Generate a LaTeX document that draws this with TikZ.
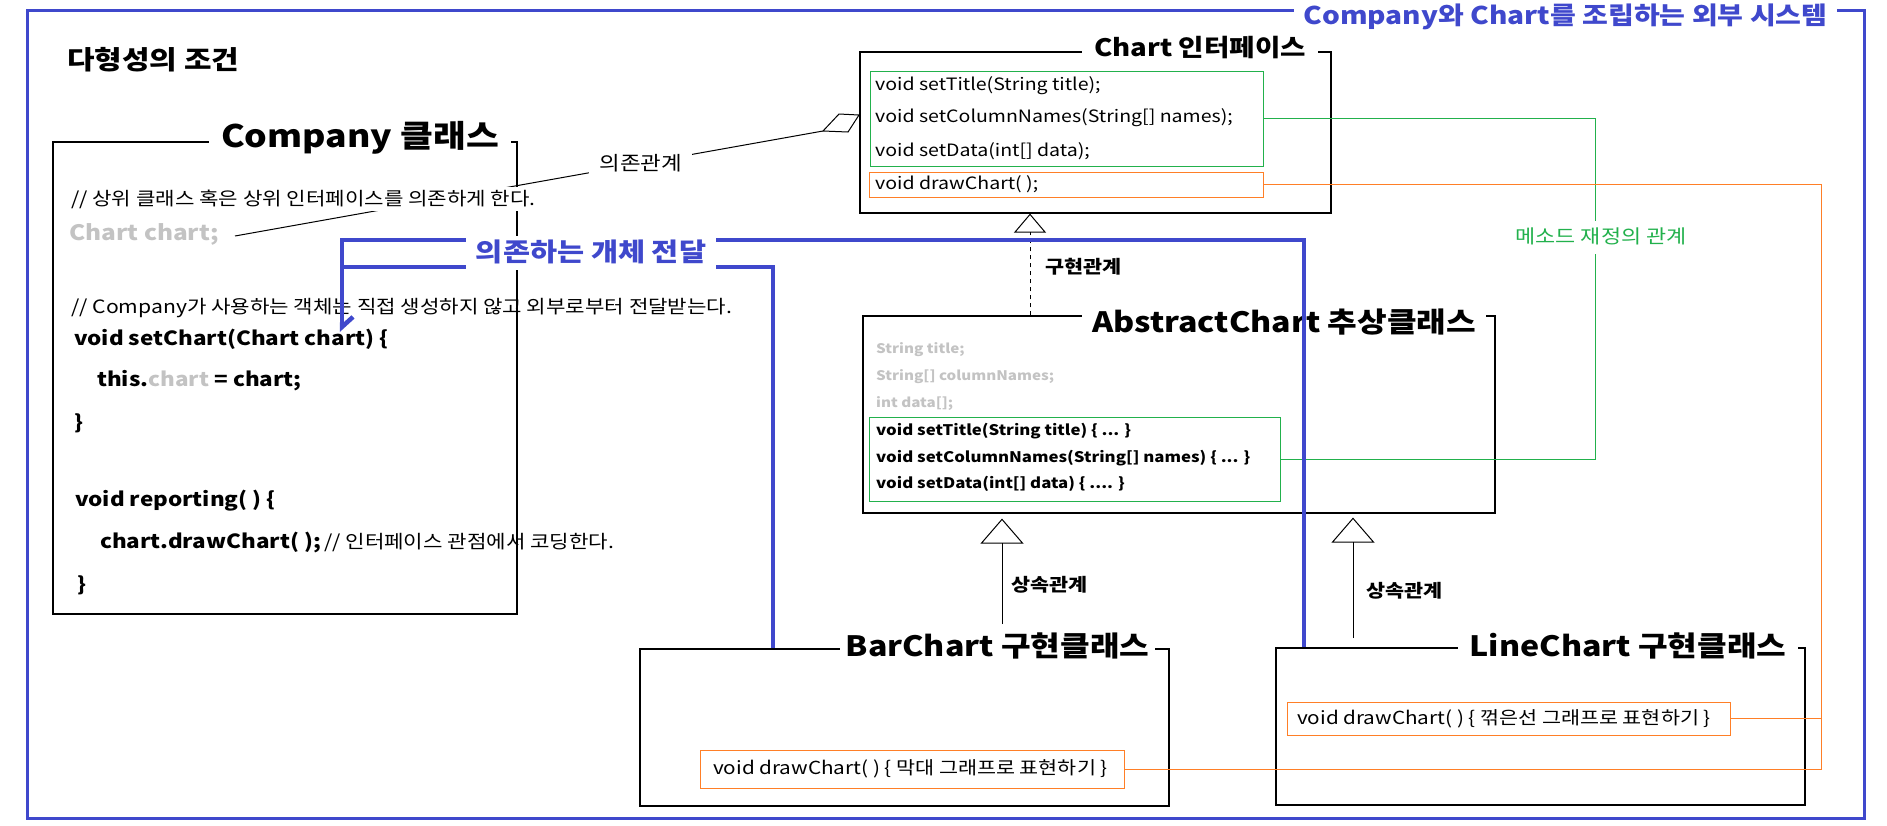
\documentclass[tikz,border=0pt]{standalone}
\usepackage{fontspec}
\setmainfont[FakeStretch=1.15]{Noto Sans CJK KR}
\usetikzlibrary{arrows.meta}
\definecolor{sysblue}{RGB}{63,72,204}
\definecolor{mgreen}{RGB}{34,177,76}
\definecolor{morange}{RGB}{255,127,39}
\definecolor{lgray}{RGB}{195,195,195}
\newcommand\fsz[1]{\fontsize{#1}{#1}\selectfont}
\begin{document}
\begin{tikzpicture}[x=1pt,y=-1pt,
  txt/.style={inner sep=0pt, anchor=west, text height=.85em, text depth=.15em},
  classbox/.style={draw=black, line width=1.2pt, inner sep=0pt},
  header/.style={fill=white, inner ysep=1pt, text height=.85em, text depth=.15em, node font=\fsz{28}\bfseries},
  greenbox/.style={draw=mgreen, line width=1pt, inner sep=0pt},
  orangebox/.style={draw=morange, line width=1pt, inner sep=0pt},
  gline/.style={draw=mgreen, line width=1pt},
  oline/.style={draw=morange, line width=1pt},
  bline/.style={draw=sysblue, line width=4.5pt},
  thin/.style={draw=black, line width=1pt},
  inherit/.style={thin, -{Triangle[open, length=25pt, width=43pt]}},
  rellabel/.style={txt, node font=\fsz{18}\bfseries},
  codeline/.style={txt, node font=\fsz{19.5}\bfseries},
  cmt/.style={txt, node font=\fsz{18.4}},
]
\fill[white] (0,0) rectangle (1887,825);
\useasboundingbox (0,0) rectangle (1887,825);

% outer frame
\node[draw=sysblue, line width=3pt, inner sep=0pt, minimum width=1837pt, minimum height=808pt] (frame) at (945.5,414) {};
\node[fill=white, inner xsep=9pt, inner ysep=2pt, text=sysblue, node font=\fsz{24.4}\bfseries, text height=.85em, text depth=.15em] (sysname) at (1565.5,16) {Company와 Chart를 조립하는 외부 시스템};

\node[txt, node font=\fsz{26}\bfseries] (cond) at (67,60) {다형성의 조건};

% Company class
\node[classbox, minimum width=464pt, minimum height=472pt] (company) at (285,378) {};
\node[header, node font=\fsz{31}\bfseries, inner xsep=12pt] (companyh) at (360,137) {Company 클래스};

% dependency
\coordinate (dstart) at (235,236);
\coordinate (d1) at (823,131);
\coordinate (d2) at (839,114);
\coordinate (d3) at (859,115);
\coordinate (d4) at (848,132);
\draw[thin] (dstart) -- (d1) node[pos=0.69, fill=white, inner xsep=10pt, inner ysep=1pt, node font=\fsz{19.5}, text height=.85em, text depth=.15em] (deplabel) {의존관계};
\draw[thin, fill=white] (d1) -- (d2) -- (d3) -- (d4) -- cycle;

\node[cmt, fill=white, inner ysep=3pt] (cmt1) at (71,199) {// 상위 클래스 혹은 상위 인터페이스를 의존하게 한다.};
\node[txt, node font=\fsz{21.2}\bfseries, text=lgray] (chartfield) at (69,233) {Chart chart;};
\node[cmt] (cmt2) at (71,307) {// Company가 사용하는 객체는 직접 생성하지 않고 외부로부터 전달받는다.};
\node[codeline] (setchart) at (74,339) {void setChart(Chart chart) \{};
\node[codeline] (thisline) at (97,380) {this.\textcolor{lgray}{chart} = chart;};
\node[codeline] (brace1) at (74,423) {\}};
\node[codeline] (reporting) at (75,500) {void reporting( ) \{};
\node[codeline] (drawcall) at (100,542) {chart.drawChart( );};
\node[cmt] (cmt3) at (324,542) {// 인터페이스 관점에서 코딩한다.};
\node[codeline] (brace2) at (77,585) {\}};

% Chart interface
\node[classbox, minimum width=471pt, minimum height=161pt] (chartbox) at (1095.5,132.5) {};
\node[header, node font=\fsz{24}\bfseries, inner xsep=12pt] (charth) at (1200,48) {Chart 인터페이스};
\node[greenbox, minimum width=393pt, minimum height=95pt] (chartgreen) at (1066.5,118.5) {};
\node[txt, node font=\fsz{17}] (ct1) at (875,85) {void setTitle(String title);};
\node[txt, node font=\fsz{17}] (ct2) at (875,117) {void setColumnNames(String[] names);};
\node[txt, node font=\fsz{17}] (ct3) at (875,151) {void setData(int[] data);};
\node[orangebox, minimum width=394pt, minimum height=25pt] (chartorange) at (1066,184.5) {};
\node[txt, node font=\fsz{17}] (ct4) at (875,184) {void drawChart( );};

% AbstractChart
\node[classbox, minimum width=632pt, minimum height=197pt] (absbox) at (1179,414.5) {};
\node[header, node font=\fsz{28}\bfseries, inner xsep=10pt] (absh) at (1284,323) {AbstractChart 추상클래스};
\node[txt, node font=\fsz{13.2}\bfseries, text=lgray] (af1) at (876,349) {String title;};
\node[txt, node font=\fsz{13.2}\bfseries, text=lgray] (af2) at (876,376) {String[] columnNames;};
\node[txt, node font=\fsz{13.2}\bfseries, text=lgray] (af3) at (876,403) {int data[];};
\node[greenbox, minimum width=411pt, minimum height=84pt] (absgreen) at (1074.5,459) {};
\node[txt, node font=\fsz{14.6}\bfseries] (am1) at (876,430) {void setTitle(String title) \{ ... \}};
\node[txt, node font=\fsz{14.6}\bfseries] (am2) at (876,457) {void setColumnNames(String[] names) \{ ... \}};
\node[txt, node font=\fsz{14.6}\bfseries] (am3) at (876,483) {void setData(int[] data) \{ .... \}};

% BarChart
\node[classbox, minimum width=529pt, minimum height=157pt] (barbox) at (904.5,727.5) {};
\node[header, inner xsep=6pt] (barh) at (997.5,647) {BarChart 구현클래스};
\node[orangebox, minimum width=424pt, minimum height=38pt] (barorange) at (912,769) {};
\node[txt, node font=\fsz{18}] (bardraw) at (713,768) {void drawChart( ) \{ 막대 그래프로 표현하기 \}};

% LineChart
\node[classbox, minimum width=529pt, minimum height=157pt] (linebox) at (1540.5,726.5) {};
\node[header, inner xsep=12pt] (lineh) at (1628,647) {LineChart 구현클래스};
\node[orangebox, minimum width=443pt, minimum height=33pt] (lineorange) at (1508.5,718.5) {};
\node[txt, node font=\fsz{18}] (linedraw) at (1297,718) {void drawChart( ) \{ 꺾은선 그래프로 표현하기 \}};

% realization and inheritance
\coordinate (realx) at (1030,0);
\draw[thin, dash pattern=on 4pt off 4pt, -{Triangle[open, length=19pt, width=32pt]}] (absbox.north -| realx) -- (chartbox.south -| realx);
\node[rellabel] (reallbl) at (1045,267) {구현관계};
\coordinate (barin) at (1002,624);
\draw[inherit, shorten >=5pt] (barin) -- (absbox.south -| barin);
\node[rellabel] (barlbl) at (1011,585) {상속관계};
\coordinate (linein) at (1353,638);
\draw[inherit, shorten >=4pt] (linein) -- (absbox.south -| linein);
\node[rellabel] (linelbl) at (1366,591) {상속관계};

% override (green)
\draw[gline] (chartgreen.east) -- ++(332,0) coordinate (gcorner) |- (absgreen.east);
\node[fill=white, text=mgreen, node font=\fsz{19}, inner xsep=2pt, inner ysep=7pt, text height=.85em, text depth=.15em] (overlbl) at (1601,237) {메소드 재정의 관계};

% orange
\coordinate (obot) at (1821,769);
\draw[oline] (chartorange.east) -| (obot) -- (barorange.east);
\draw[oline] (lineorange.east) -- (lineorange.east -| obot);

% blue injection
\coordinate (bup) at (1304,240);
\coordinate (blow) at (773,267);
\coordinate (bleft) at (342,240);
\coordinate (btip) at (342,332);
\draw[bline, -{Straight Barb[left, length=10pt, width=22pt]}] (linebox.north -| bup) -- (bup) -- (bleft) -- (btip);
\draw[bline] (barbox.north -| blow) -- (blow) -- (blow -| bleft);
\node[fill=white, text=sysblue, node font=\fsz{25.6}\bfseries, inner xsep=10pt, inner ysep=4pt, text height=.85em, text depth=.15em] (passlbl) at (591,253) {의존하는 개체 전달};
\end{tikzpicture}
\end{document}
